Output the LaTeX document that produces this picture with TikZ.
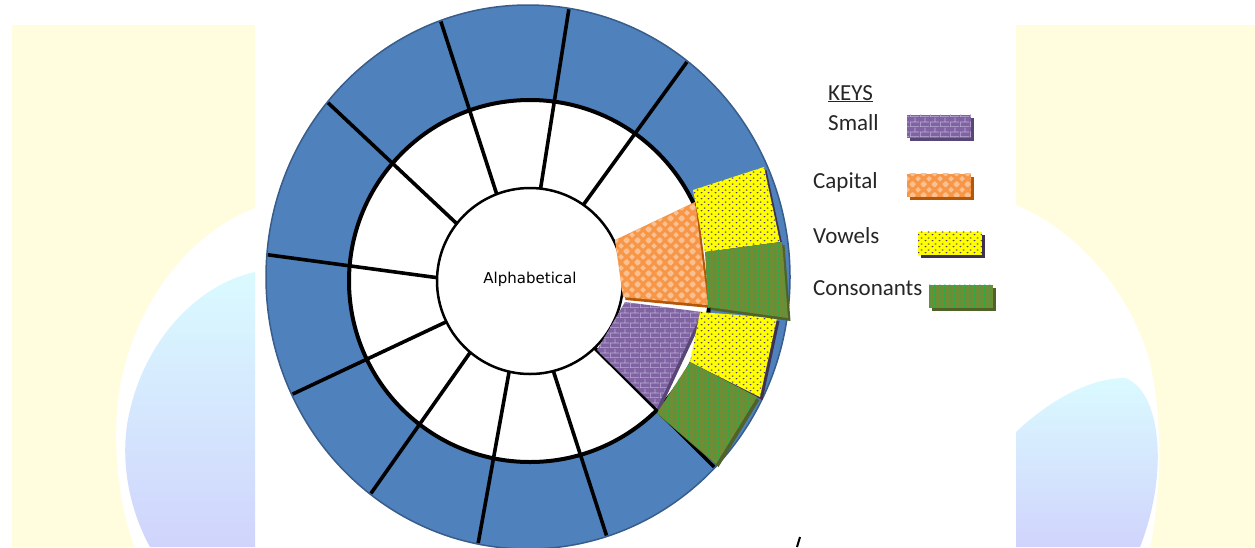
\documentclass[tikz,border=0pt]{standalone}
\usepackage{fontspec}
\setmainfont{Carlito}
\newfontfamily\centrefont{DejaVu Sans}
\usetikzlibrary{patterns,shadows,calc}

\definecolor{panelyellow}{RGB}{255,253,222}
\definecolor{globetop}{RGB}{218,250,255}
\definecolor{globebottom}{RGB}{208,212,252}
\definecolor{ringblue}{RGB}{79,129,189}
\definecolor{ringedge}{RGB}{56,93,138}
\definecolor{smallbase}{RGB}{128,100,162}
\definecolor{smallline}{RGB}{190,174,216}
\definecolor{smallshade}{RGB}{88,70,118}
\definecolor{capbase}{RGB}{247,150,70}
\definecolor{capline}{RGB}{250,192,145}
\definecolor{capshade}{RGB}{182,87,8}
\definecolor{vowelbase}{RGB}{255,255,0}
\definecolor{vowelline}{RGB}{80,60,120}
\definecolor{vowelshade}{RGB}{63,49,81}
\definecolor{consbase}{RGB}{112,140,52}
\definecolor{consline}{RGB}{30,178,76}
\definecolor{consshade}{RGB}{79,98,40}

% fine fill patterns
\newcommand{\diamondat}[2]{%
  \pgfpathmoveto{\pgfpoint{#1-3pt}{#2}}%
  \pgfpathlineto{\pgfpoint{#1}{#2+3pt}}%
  \pgfpathlineto{\pgfpoint{#1+3pt}{#2}}%
  \pgfpathlineto{\pgfpoint{#1}{#2-3pt}}%
  \pgfpathclose}
\pgfdeclarepatternformonly{brickfine}{\pgfpointorigin}{\pgfqpoint{10pt}{10pt}}{\pgfqpoint{10pt}{10pt}}{
  \pgfsetlinewidth{0.8pt}
  \pgfpathmoveto{\pgfqpoint{0pt}{0.4pt}}\pgfpathlineto{\pgfqpoint{10pt}{0.4pt}}
  \pgfpathmoveto{\pgfqpoint{0pt}{5.4pt}}\pgfpathlineto{\pgfqpoint{10pt}{5.4pt}}
  \pgfpathmoveto{\pgfqpoint{0.4pt}{0pt}}\pgfpathlineto{\pgfqpoint{0.4pt}{5pt}}
  \pgfpathmoveto{\pgfqpoint{5.4pt}{5pt}}\pgfpathlineto{\pgfqpoint{5.4pt}{10pt}}
  \pgfusepath{stroke}}
\pgfdeclarepatternformonly{diamondfine}{\pgfpointorigin}{\pgfqpoint{11pt}{11pt}}{\pgfqpoint{11pt}{11pt}}{
  \diamondat{5.5pt}{5.5pt}\diamondat{0pt}{0pt}\diamondat{11pt}{0pt}
  \diamondat{0pt}{11pt}\diamondat{11pt}{11pt}
  \pgfusepath{fill}}
\pgfdeclarepatternformonly{dotfine}{\pgfpointorigin}{\pgfqpoint{7pt}{6pt}}{\pgfqpoint{7pt}{6pt}}{
  \pgfpathellipse{\pgfqpoint{1.75pt}{1.5pt}}{\pgfqpoint{1.2pt}{0pt}}{\pgfqpoint{0pt}{0.8pt}}
  \pgfpathellipse{\pgfqpoint{5.25pt}{4.5pt}}{\pgfqpoint{1.2pt}{0pt}}{\pgfqpoint{0pt}{0.8pt}}
  \pgfusepath{fill}}
\pgfdeclarepatternformonly{stripefine}{\pgfpointorigin}{\pgfqpoint{4.6pt}{4pt}}{\pgfqpoint{4.6pt}{4pt}}{
  \pgfpathrectangle{\pgfqpoint{0pt}{0pt}}{\pgfqpoint{1.4pt}{4pt}}
  \pgfusepath{fill}}

\begin{document}
\begin{tikzpicture}[x=1pt,y=-1pt,
    divider/.style={line width=3.6pt},
    smallfill/.style={fill=smallbase, postaction={pattern=brickfine, pattern color=smallline},
      drop shadow={shadow xshift=2.5pt, shadow yshift=-3pt, fill=smallshade, opacity=1}},
    capfill/.style={fill=capbase, postaction={pattern=diamondfine, pattern color=capline},
      drop shadow={shadow xshift=2.5pt, shadow yshift=-3pt, fill=capshade, opacity=1}},
    vowelfill/.style={fill=vowelbase, postaction={pattern=dotfine, pattern color=vowelline},
      drop shadow={shadow xshift=2.5pt, shadow yshift=-3pt, fill=vowelshade, opacity=1}},
    consfill/.style={fill=consbase, postaction={pattern=stripefine, pattern color=consline},
      drop shadow={shadow xshift=2.5pt, shadow yshift=-3pt, fill=consshade, opacity=1}},
    keytext/.style={anchor=base west, inner sep=0pt, text=black!85,
      font=\fontsize{23}{27}\selectfont},
    swatch/.style={minimum width=64pt, minimum height=23pt, inner sep=0pt}]
  \useasboundingbox (0,0) rectangle (1255,547);
  \fill[white] (0,0) rectangle (1255,547);

  % side panels with the faded globe
  \fill[panelyellow] (12,25) rectangle (255,547);
  \fill[panelyellow] (1016,25) rectangle (1255,547);
  \fill[white] (255,208) .. controls (185,235) and (130,310) .. (118,400)
    .. controls (112,460) and (122,515) .. (135,547) -- (255,547) -- cycle;
  \shade[top color=globetop, bottom color=globebottom] (255,272) .. controls (195,285) and (140,345) .. (127,425)
    .. controls (120,475) and (135,520) .. (150,547) -- (255,547) -- cycle;
  \fill[white] (1016,205) .. controls (1075,230) and (1125,285) .. (1148,355)
    .. controls (1165,420) and (1160,500) .. (1150,547) -- (1016,547) -- cycle;
  \shade[top color=globetop, bottom color=globebottom] (1016,432) .. controls (1050,400) and (1090,378) .. (1125,378)
    .. controls (1160,390) and (1170,470) .. (1140,547) -- (1016,547) -- cycle;

  % rings
  \coordinate (c) at (530,281);
  \coordinate (o) at (528,277);
  \filldraw[fill=ringblue, draw=ringedge, line width=1.5pt] (o) ellipse [x radius=262, y radius=272];
  \draw[line width=4pt, fill=white] (c) circle [radius=181];
  \foreach \a/\b in {55/52.5, 83.5/81, 111/109.5, 142/140, 178/175.3,
                     206/205.6, 230/233, 257/259, 284.5/287.5, 314/315.5}
    \draw[divider] ($(c)+(-\a:92)$) -- ($(o)+(-\b:261 and 271)$);
  \draw[line width=2.5pt, fill=white] (c) circle [radius=93];

  % coloured parts
  \fill[smallfill] (625,302) -- (702,312) -- (657,408) -- (597,350) -- cycle;
  \fill[capfill] (615,240) -- (695,202) -- (708,305) -- (623,297) -- cycle;
  \fill[vowelfill] (700,312) -- (777,318) -- (760,397) -- (690,362) -- cycle;
  \fill[consfill] (690,362) -- (757,397) -- (716,464) -- (657,413) -- cycle;
  \fill[vowelfill] (693,190) -- (764,167) -- (780,242) -- (705,252) -- cycle;
  \fill[consfill] (705,252) -- (782,242) -- (788,318) -- (708,307) -- cycle;

  \node[font=\centrefont\fontsize{15}{18}\selectfont, inner sep=0pt] (alpha) at (530,279) {Alphabetical};

  % keys
  \node[keytext] (keys) at (828,100) {\underline{KEYS}};
  \node[keytext] (small) at (828,130) {Small};
  \node[keytext] (capital) at (813,188) {Capital};
  \node[keytext] (vowels) at (813,243) {Vowels};
  \node[keytext] (consonants) at (813,295) {Consonants};
  \node[swatch, smallfill] (smallkey) at (939,126) {};
  \node[swatch, capfill] (capkey) at (939,185) {};
  \node[swatch, vowelfill] (vowelkey) at (950,243) {};
  \node[swatch, consfill] (conskey) at (961,296) {};

  \draw[line width=2pt] (800,537) -- (797,547);
\end{tikzpicture}
\end{document}
